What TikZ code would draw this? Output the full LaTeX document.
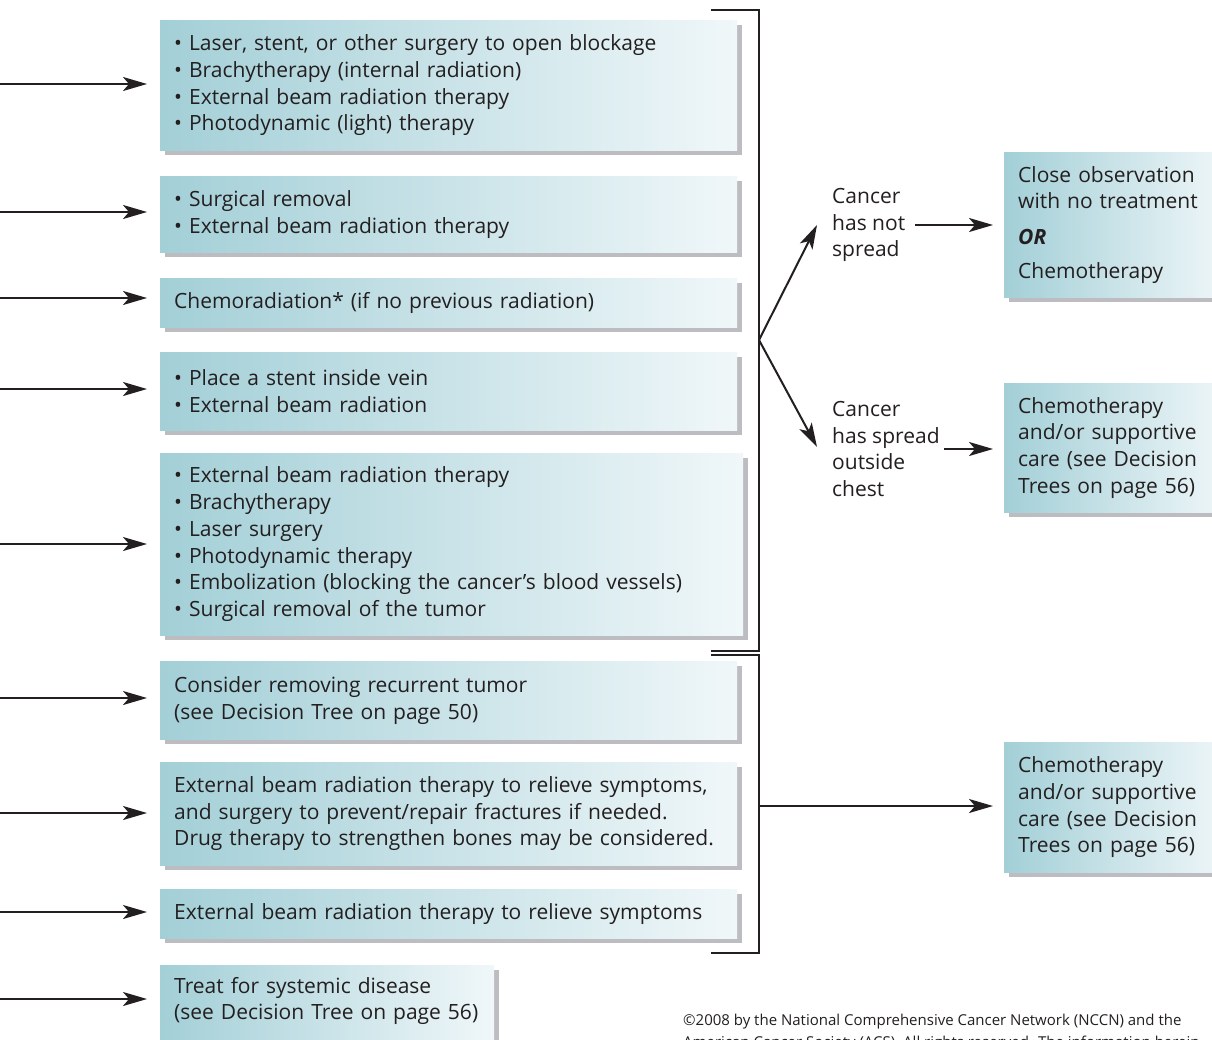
\documentclass[tikz,border=0pt]{standalone}
\usepackage{fontspec}
\setmainfont{Open Sans}
\usetikzlibrary{shadows,arrows.meta}
\definecolor{ink}{HTML}{231F20}
\definecolor{boxL}{HTML}{A3CFD7}
\definecolor{boxR}{HTML}{F0F7F9}
\definecolor{shadowgray}{HTML}{BDBDC1}
\newcommand{\bodyfont}{\fontsize{21}{26.7}\selectfont}
\begin{document}
\begin{tikzpicture}[x=1pt,y=-1pt,
  tbox/.style={anchor=north west, align=left, inner xsep=14pt, inner ysep=0pt,
    left color=boxL, right color=boxR,
    general shadow={fill=shadowgray, shadow xshift=5pt, shadow yshift=-5pt},
    text=ink, font=\bodyfont},
  lbl/.style={anchor=west, align=left, inner sep=0pt, text=ink, font=\bodyfont},
  arr/.style={draw=ink, line width=2pt, -{Stealth[length=24pt,width=14pt,inset=6pt]}},
  bracket/.style={draw=ink, line width=2.5pt}]
\path[use as bounding box] (0,0) rectangle (1212,1039);
\clip (0,0) rectangle (1212,1039);
\fill[white] (0,0) rectangle (1212,1039);

% treatment boxes on the left
\node[tbox, minimum width=577pt, minimum height=130pt, text width=549pt] (b1) at (160,20)
  {• Laser, stent, or other surgery to open blockage\\• Brachytherapy (internal radiation)\\• External beam radiation therapy\\• Photodynamic (light) therapy};
\node[tbox, minimum width=577pt, minimum height=76pt, text width=549pt] (b2) at (160,176)
  {• Surgical removal\\• External beam radiation therapy};
\node[tbox, minimum width=577pt, minimum height=49pt, text width=549pt] (b3) at (160,278)
  {Chemoradiation* (if no previous radiation)};
\node[tbox, minimum width=577pt, minimum height=78pt, text width=549pt] (b4) at (160,352)
  {• Place a stent inside vein\\• External beam radiation};
\node[tbox, minimum width=583pt, minimum height=182pt, text width=555pt] (b5) at (160,453)
  {• External beam radiation therapy\\• Brachytherapy\\• Laser surgery\\• Photodynamic therapy\\• Embolization (blocking the cancer’s blood vessels)\\• Surgical removal of the tumor};
\node[tbox, minimum width=577pt, minimum height=78pt, text width=549pt] (b6) at (160,661)
  {Consider removing recurrent tumor\\(see Decision Tree on page 50)};
\node[tbox, minimum width=577pt, minimum height=103pt, text width=549pt] (b7) at (160,762)
  {External beam radiation therapy to relieve symptoms,\\and surgery to prevent/repair fractures if needed.\\Drug therapy to strengthen bones may be considered.};
\node[tbox, minimum width=334pt, minimum height=84pt, text width=306pt, text depth=44pt] (b9) at (160,965)
  {Treat for systemic disease\\(see Decision Tree on page 56)};
\node[tbox, minimum width=577pt, minimum height=49pt, text width=549pt] (b8) at (160,889)
  {External beam radiation therapy to relieve symptoms};

% incoming arrows
\foreach \i/\y in {1/84,2/212,3/298,4/389,5/544,6/698,7/813,8/912,9/999} {
  \coordinate (s\i) at (0,\y);
  \draw[arr, shorten >=13pt] (s\i) -- (s\i -| b\i.west);
}

% brackets
\coordinate (u1) at (711,10);  \coordinate (u2) at (759,10);
\coordinate (u3) at (759,651); \coordinate (u4) at (711,651);
\coordinate (l1) at (711,655); \coordinate (l2) at (759,655);
\coordinate (l3) at (759,953); \coordinate (l4) at (711,953);
\draw[bracket] (u1) -- (u2) -- (u3) -- (u4);
\draw[bracket] (l1) -- (l2) -- (l3) -- (l4);
\coordinate (fork) at (759,340);
\coordinate (fork2) at (759,806);

% outcome boxes on the right
\node[tbox, minimum width=225pt, minimum height=145pt, text width=197pt] (r1) at (1004,152)
  {Close observation\\with no treatment\\[9pt]\textbf{\textit{OR}}\\[7pt]Chemotherapy};
\node[tbox, minimum width=225pt, minimum height=129pt, text width=197pt] (r2) at (1004,383)
  {Chemotherapy\\and/or supportive\\care (see Decision\\Trees on page 56)};
\node[tbox, minimum width=225pt, minimum height=130pt, text width=197pt] (r3) at (1004,742)
  {Chemotherapy\\and/or supportive\\care (see Decision\\Trees on page 56)};

% condition labels
\node[lbl] (c1) at (832,225) {Cancer\\has not\\spread};
\node[lbl] (c2) at (832,449) {Cancer\\has spread\\outside\\chest};
\coordinate (t1) at (817,225);
\coordinate (t2) at (817,447);
\draw[arr] (fork) -- (t1);
\draw[arr] (fork) -- (t2);
\draw[arr, shorten <=10pt, shorten >=11pt] (c1.east) -- (c1.east -| r1.west);
\draw[arr, shorten <=4pt, shorten >=11pt] (c2.east) -- (c2.east -| r2.west);
\draw[arr, shorten >=11pt] (fork2) -- (fork2 -| r3.west);

% copyright note
\node[anchor=north west, inner sep=0pt, align=left, text=ink,
  font=\fontsize{15}{22}\selectfont] (copy) at (683,1014)
  {©2008 by the National Comprehensive Cancer Network (NCCN) and the\\American Cancer Society (ACS). All rights reserved. The information herein};
\end{tikzpicture}
\end{document}
